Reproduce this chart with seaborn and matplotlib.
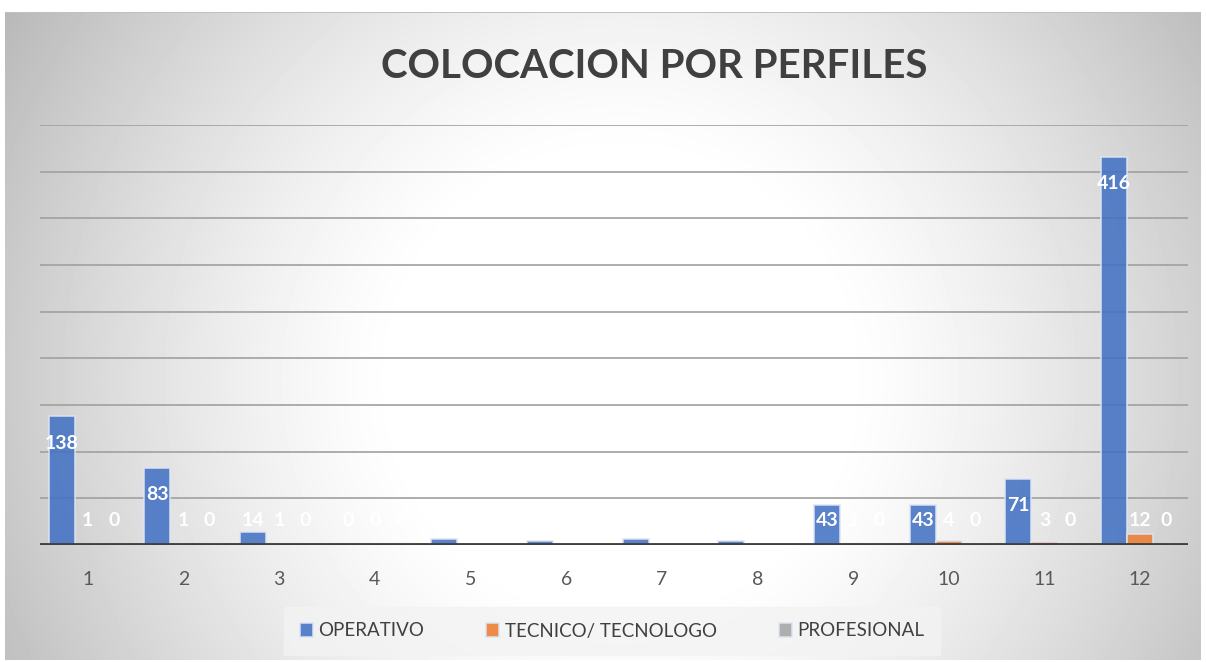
import numpy as np
import pandas as pd
import matplotlib.pyplot as plt
import seaborn as sns

# datos del grafico
meses = ['1', '2', '3', '4', '5', '6', '7', '8', '9', '10', '11', '12']
perfiles = ['OPERATIVO', 'TECNICO/ TECNOLOGO', 'PROFESIONAL']
operativo = [138, 83, 14, 0, 6, 4, 6, 4, 43, 43, 71, 416]
tecnico = [1, 1, 1, 0, 0, 0, 0, 0, 1, 4, 3, 12]
profesional = [0, 0, 0, 0, 0, 0, 0, 0, 0, 0, 0, 0]
colores = ['#4472C4', '#ED7D31', '#A5A5A5']

df = pd.DataFrame({
    'mes': meses * 3,
    'perfil': [perfiles[0]] * 12 + [perfiles[1]] * 12 + [perfiles[2]] * 12,
    'valor': operativo + tecnico + profesional,
})

sns.set_theme(style='white')
plt.rcParams['font.family'] = ['Lato', 'DejaVu Sans']

W, H = 1206, 662
fig = plt.figure(figsize=(W / 100, H / 100), dpi=100)

# fondo con degradado radial (estilo Excel)
bg = fig.add_axes([0, 0, 1, 1], zorder=-1)
yy, xx = np.mgrid[0:H, 0:W]
d = np.sqrt((xx - 620) ** 2 + (yy - 380) ** 2)
g = 1 - 0.21 * np.clip((d - 220) / 400, 0, 1.3) ** 1.3
img = np.ones((H, W))
img[12:660, 5:1201] = g[12:660, 5:1201]
img[12, 5:1201] = 0.75
bg.imshow(img, cmap='gray', vmin=0, vmax=1, aspect='auto', interpolation='bilinear')
bg.axis('off')

ax = fig.add_axes([40 / W, 117 / H, 1148 / W, 420 / H])
ax.set_facecolor('none')
sns.barplot(data=df, x='mes', y='valor', hue='perfil', palette=colores,
            width=0.82, saturation=1, alpha=0.88, ax=ax,
            edgecolor='#dde6f5', linewidth=1.2)

ax.set_ylim(0, 450)
ax.set_yticks(range(0, 451, 50))
ax.set_yticklabels([])
ax.yaxis.grid(True, color='#a0a0a0', linewidth=1.2)
ax.set_axisbelow(True)
ax.axhline(0, color='#404040', linewidth=3.5, zorder=5)
for s in ax.spines.values():
    s.set_visible(False)
ax.set_xlabel('')
ax.set_ylabel('')
ax.tick_params(axis='x', length=0, pad=19, labelsize=14, labelcolor='#595959')
ax.tick_params(axis='y', length=0)

# etiquetas de valores
for cont in ax.containers:
    for bar in cont:
        v = bar.get_height()
        y = max(v - 29, 26)
        ax.text(bar.get_x() + bar.get_width() / 2, y, f'{int(v)}',
                ha='center', va='center', color='white',
                fontsize=14, fontweight='bold', zorder=6)

sns.move_legend(ax, 'center', bbox_to_anchor=(612 / W, 31 / H),
                bbox_transform=fig.transFigure, ncol=3, title=None,
                frameon=True, fontsize=13.5, handlelength=0.7, handleheight=0.7,
                handletextpad=0.3, columnspacing=3.3, borderpad=0.85,
                borderaxespad=0, fancybox=False)
leg = ax.get_legend()
leg.get_frame().set_facecolor('#f3f3f3')
leg.get_frame().set_edgecolor('#f3f3f3')
for t in leg.get_texts():
    t.set_color('#404040')

fig.text(654 / W, 1 - 66 / H, 'COLOCACION POR PERFILES', ha='center', va='center',
         fontsize=29, fontweight='bold', color='#404040')

fig.savefig('out.png', dpi=100)
